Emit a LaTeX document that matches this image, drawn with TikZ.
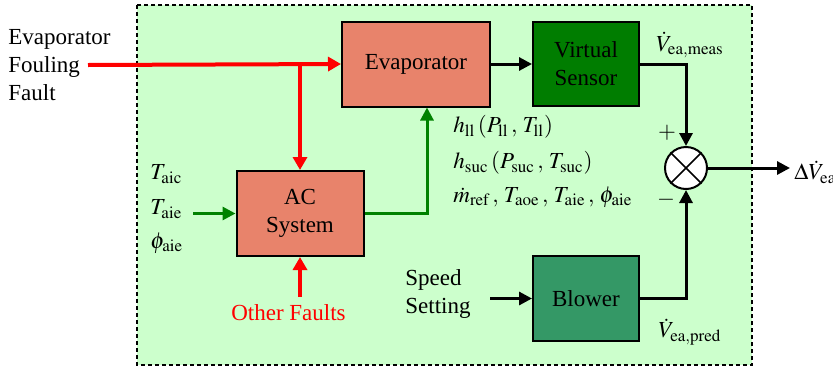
\documentclass[tikz,border=0pt]{standalone}
\usepackage{mathptmx}
\usepackage[no-math]{fontspec}
\setmainfont{Liberation Serif}
\usetikzlibrary{arrows.meta}

\definecolor{panelgreen}{RGB}{204,255,204}
\definecolor{salmon}{RGB}{232,131,107}
\definecolor{sensorgreen}{RGB}{0,125,0}
\definecolor{blowergreen}{RGB}{52,152,102}
\definecolor{faultred}{RGB}{255,0,0}
\definecolor{signalgreen}{RGB}{0,130,0}

\begin{document}
\begin{tikzpicture}[
    x=0.5pt, y=-0.5pt,
    every node/.style={font=\fontsize{11.5}{14}\selectfont},
    block/.style={rectangle, draw, line width=1pt, inner sep=0pt, align=center},
    plant/.style={block, fill=salmon},
    label/.style={inner sep=0pt, anchor=west},
    faultline/.style={faultred, line width=2pt, -{Triangle[length=6.5pt,width=7pt]}},
    sigline/.style={signalgreen, line width=1.5pt, -{Triangle[length=6.5pt,width=6.5pt]}},
    outline/.style={black, line width=1.5pt, -{Triangle[length=6.5pt,width=6.5pt]}}
  ]
  \useasboundingbox (0,0) rectangle (833,370);
  % panel
  \draw[fill=panelgreen, line width=1pt, dash pattern=on 2pt off 1.5pt]
    (137,5) rectangle (752,365);

  % blocks
  \node[plant, minimum width=74pt, minimum height=42.5pt] (evap) at (416,64) {Evaporator};
  \node[block, fill=sensorgreen, minimum width=53pt, minimum height=42pt] (sensor) at (586,64) {Virtual\\Sensor};
  \node[plant, minimum width=63.5pt, minimum height=42.5pt] (ac) at (300,213.5) {AC\\System};
  \node[block, fill=blowergreen, minimum width=53pt, minimum height=42.5pt] (blower) at (586,298.5) {Blower};
  \node[circle, draw, fill=white, line width=1pt, minimum size=21pt, inner sep=0pt] (sum) at (686,168) {};
  \draw[line width=0.8pt] (sum.45) -- (sum.225) (sum.135) -- (sum.-45);

  % texts
  \node[label, align=left, font=\fontsize{11.5}{14.2}\selectfont] (fault) at (8,65) {Evaporator\\Fouling\\Fault};
  \node[label] (taic) at (150,174) {$T_{\mathrm{aic}}$};
  \node[label] (taie) at (150,209) {$T_{\mathrm{aie}}$};
  \node[label] (phiaie) at (150,243) {$\phi_{\mathrm{aie}}$};
  \node[label] (hll) at (453,127) {$h_{\mathrm{ll}}\,(P_{\mathrm{ll}}\,,\,T_{\mathrm{ll}})$};
  \node[label] (hsuc) at (453,163) {$h_{\mathrm{suc}}\,(P_{\mathrm{suc}}\,,\,T_{\mathrm{suc}})$};
  \node[label] (mref) at (453,197) {$\dot m_{\mathrm{ref}}\,,\,T_{\mathrm{aoe}}\,,\,T_{\mathrm{aie}}\,,\,\phi_{\mathrm{aie}}$};
  \node[label, align=left] (speed) at (405,294) {Speed\\Setting};
  \node[inner sep=0pt, text=faultred] (other) at (288.5,313) {Other Faults};
  \node[inner sep=0pt] (vmeas) at (690,45) {$\dot V_{\mathrm{ea,meas}}$};
  \node[inner sep=0pt] (vpred) at (690,332) {$\dot V_{\mathrm{ea,pred}}$};
  \node[inner sep=0pt] (plus) at (667,133) {$+$};
  \node[inner sep=0pt] (minus) at (666,200) {$-$};
  \node[label] (dvea) at (794,172) {$\Delta\dot V_{\mathrm{ea}}$};

  % free ends
  \coordinate (faultstart) at (88,65);
  \coordinate (split) at (300,65);
  \coordinate (acin) at (193,213.5);
  \coordinate (gcorner) at (427,213.5);
  \coordinate (otherstart) at (300,297);
  \coordinate (speedstart) at (490,298.5);
  \coordinate (sumout) at (790,168);

  % connectors
  \draw[faultline] (faultstart) -- (evap.west);
  \draw[faultline] (split) -- (ac.north);
  \draw[faultline] (otherstart) -- (ac.south);
  \draw[sigline] (acin) -- (ac.west);
  \draw[sigline] (ac.east) -- (gcorner) -- (gcorner |- evap.south);
  \draw[outline] (evap.east) -- (sensor.west);
  \draw[outline] (sensor.east) -| (sum.north);
  \draw[outline] (blower.east) -| (sum.south);
  \draw[outline] (speedstart) -- (blower.west);
  \draw[outline] (sum.east) -- (sumout);
\end{tikzpicture}
\end{document}
